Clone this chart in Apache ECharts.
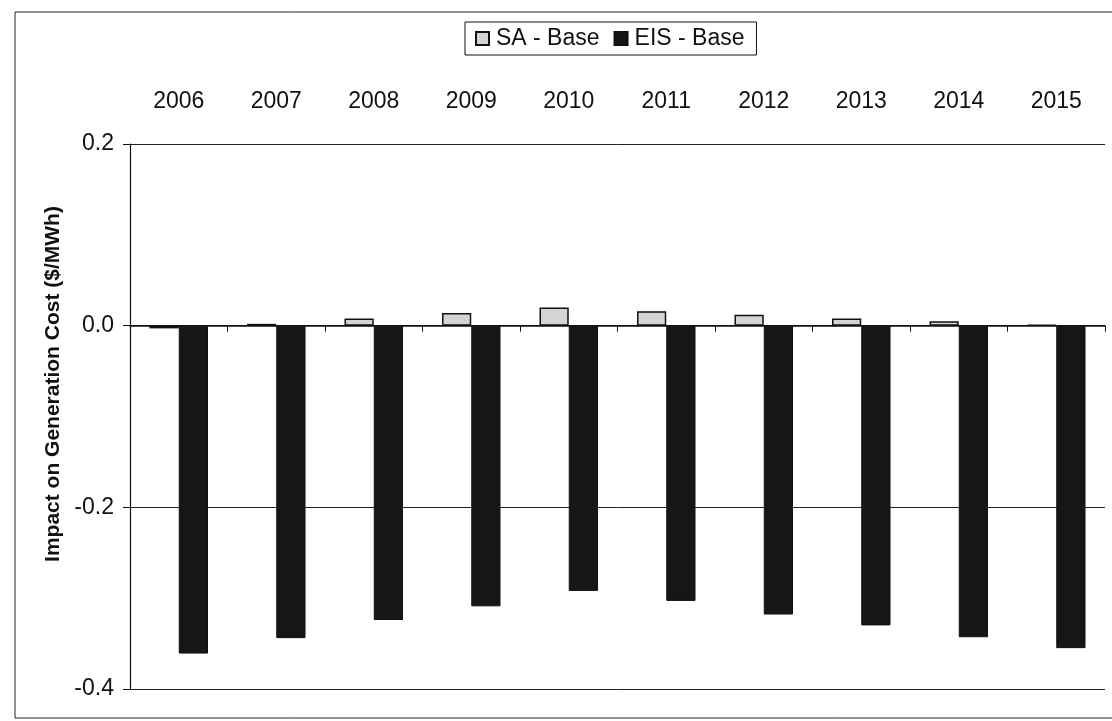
<!DOCTYPE html>
<html>
<head>
<meta charset="utf-8">
<script src="https://cdn.jsdelivr.net/npm/echarts@6/dist/echarts.min.js"></script>
<style>
html,body{margin:0;padding:0;background:#fff;}
#chart{width:1112px;height:721px;}
</style>
</head>
<body>
<div id="chart"></div>
<script>
const categories = ['2006','2007','2008','2009','2010','2011','2012','2013','2014','2015'];
const saBase = [-0.003, 0.002, 0.008, 0.014, 0.020, 0.016, 0.012, 0.008, 0.005, 0.001];
const eisBase = [-0.361, -0.344, -0.324, -0.309, -0.292, -0.303, -0.318, -0.330, -0.343, -0.355];
const yTicks = { min: -0.4, max: 0.2, interval: 0.2 };
const yTitle = 'Impact on Generation Cost ($/MWh)';

const chart = echarts.init(document.getElementById('chart'), null, {renderer: 'canvas'});
const font = '"Liberation Sans", Arial, sans-serif';
chart.setOption({
  animation: false,
  backgroundColor: '#ffffff',
  graphic: [{
    type: 'rect',
    shape: { x: 15, y: 12, width: 1105, height: 706 },
    style: { fill: 'none', stroke: '#222', lineWidth: 1 },
    silent: true
  }, {
    type: 'text',
    x: 53, y: 384,
    rotation: Math.PI / 2,
    style: {
      text: yTitle,
      fontFamily: font, fontSize: 21, fontWeight: 'bold', fill: '#111',
      textAlign: 'center', textVerticalAlign: 'middle'
    },
    silent: true
  }],
  legend: {
    left: 465, top: 22,
    itemWidth: 13, itemHeight: 13, itemGap: 14,
    icon: 'rect',
    borderColor: '#111', borderWidth: 1,
    padding: [5, 12, 5, 10],
    textStyle: { fontFamily: font, fontSize: 23, color: '#111', padding: [0,0,0,2] },
    data: ['SA - Base', 'EIS - Base']
  },
  grid: { left: 130, right: 7, top: 144, bottom: 32 },
  xAxis: [{
    type: 'category',
    data: categories,
    position: 'bottom',
    axisLine: { onZero: true, lineStyle: { color: '#111', width: 1.5 } },
    axisTick: { show: true, inside: false, length: 6, alignWithLabel: false, lineStyle: { color: '#111' } },
    axisLabel: { show: false },
    splitLine: { show: false }
  }, {
    type: 'category',
    data: categories,
    position: 'top',
    axisLine: { show: false, onZero: false },
    axisTick: { show: false },
    axisLabel: { show: true, margin: 31, fontFamily: font, fontSize: 23, color: '#111' }
  }],
  yAxis: {
    type: 'value',
    min: yTicks.min, max: yTicks.max, interval: yTicks.interval,
    axisLine: { show: true, lineStyle: { color: '#111', width: 1.2 } },
    axisTick: { show: true, length: 7, lineStyle: { color: '#111' } },
    axisLabel: { fontFamily: font, fontSize: 23, color: '#111', margin: 16,
      formatter: v => v.toFixed(1) },
    splitLine: { show: true, lineStyle: { color: '#222', width: 1 } }
  },
  series: [{
    name: 'SA - Base',
    type: 'bar',
    xAxisIndex: 0,
    data: saBase,
    barWidth: '30%',
    barGap: '0%',
    itemStyle: { color: '#d4d4d4', borderColor: '#111', borderWidth: 1.5 }
  }, {
    name: 'EIS - Base',
    type: 'bar',
    xAxisIndex: 0,
    data: eisBase,
    barWidth: '30%',
    barGap: '0%',
    itemStyle: { color: '#161616', borderColor: '#111', borderWidth: 1 }
  }]
});
</script>
</body>
</html>
